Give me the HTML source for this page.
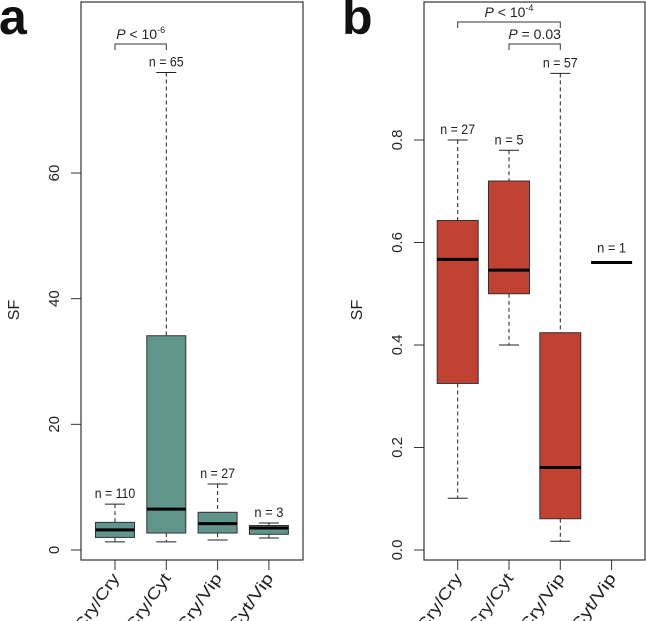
<!DOCTYPE html>
<html><head><meta charset="utf-8"><style>
html,body{margin:0;padding:0;background:#fff;}
svg{display:block;font-family:"Liberation Sans",sans-serif;}
</style></head><body>
<svg id="s" width="646" height="621" viewBox="0 0 646 621"></svg>
<script>
const categories = ["Cry/Cry","Cry/Cyt","Cry/Vip","Cyt/Vip"];
const aLow = [1.3, 1.3, 1.6, 1.9];
const aQ1 = [2.0, 2.7, 2.7, 2.5];
const aMed = [3.2, 6.5, 4.2, 3.5];
const aQ3 = [4.4, 34.1, 6.0, 3.9];
const aHigh = [7.3, 76.0, 10.5, 4.3];
const aN = ["n = 110","n = 65","n = 27","n = 3"];
const aTicks = [0, 20, 40, 60];
const bLow = [0.101, 0.40, 0.017, 0.561];
const bQ1 = [0.325, 0.50, 0.061, 0.561];
const bMed = [0.567, 0.546, 0.161, 0.561];
const bQ3 = [0.643, 0.72, 0.424, 0.561];
const bHigh = [0.80, 0.78, 0.93, 0.561];
const bN = ["n = 27","n = 5","n = 57","n = 1"];
const bTicks = [0.0, 0.2, 0.4, 0.6, 0.8];

const NS = "http://www.w3.org/2000/svg";
const svg = document.getElementById("s");
function mk(tag, attrs, parent, txt){
  const e = document.createElementNS(NS, tag);
  for (const k in attrs) e.setAttribute(k, attrs[k]);
  if (txt !== undefined) e.textContent = txt;
  (parent || svg).appendChild(e);
  return e;
}

function panel(cfg){
  const g = mk("g", {});
  
  
  const y = v => cfg.y0 - v * cfg.scale;
  const x = i => cfg.xs + i * cfg.dx;
  const fr = mk("rect", {x: cfg.left, y: 2, width: cfg.right - cfg.left, height: 558, fill: "none", stroke: "#333", "stroke-width": 1.2}, g);
  
  
  const ya = mk("line", {x1: cfg.left, x2: cfg.left, y1: y(cfg.ticks[0]), y2: y(cfg.ticks[cfg.ticks.length-1]), stroke: "#333"}, g);
  
  
  cfg.ticks.forEach(t => {
    const tl = mk("line", {x1: cfg.left - 10, x2: cfg.left, y1: y(t), y2: y(t), stroke: "#333"}, g);
    
    
    const tx = mk("text", {x: 0, y: 0, transform: `translate(${cfg.left - 22},${y(t)}) rotate(-90)`, "text-anchor": "middle", "font-size": 15, fill: "#222"}, g, cfg.fmt(t));
    
    
  });
  const yt = mk("text", {x: 0, y: 0, transform: `translate(${cfg.left - 62},${310}) rotate(-90)`, "text-anchor": "middle", "font-size": 16, fill: "#222"}, g, "SF");
  
  
  const lt = mk("text", {x: cfg.left - 82, y: 34, "font-size": 50, "font-weight": "bold", fill: "#111"}, g, cfg.letter);
  
  
  categories.forEach((c, i) => {
    const cx = x(i);
    const xt = mk("line", {x1: cx, x2: cx, y1: 560, y2: 570, stroke: "#333"}, g);
    
    
    const xl = mk("text", {x: 0, y: 0, transform: `translate(${cx + 5},${578}) rotate(-55)`, "text-anchor": "end", "font-size": 16, fill: "#222", textLength: 66, lengthAdjust: "spacingAndGlyphs"}, g, c);
    
    
    const hw = cfg.bw / 2, cw = 16;
    const lo = cfg.low[i], q1 = cfg.q1[i], md = cfg.med[i], q3 = cfg.q3[i], hi = cfg.high[i];
    if (q3 > q1) {
      const w1 = mk("line", {x1: cx, x2: cx, y1: y(hi), y2: y(q3), stroke: "#222", "stroke-dasharray": "4,3"}, g);
      
      
      const w2 = mk("line", {x1: cx, x2: cx, y1: y(q1), y2: y(lo), stroke: "#222", "stroke-dasharray": "4,3"}, g);
      
      
      const c1 = mk("line", {x1: cx - cw/2 - 2, x2: cx + cw/2 + 2, y1: y(hi), y2: y(hi), stroke: "#222"}, g);
      
      
      const c2 = mk("line", {x1: cx - cw/2 - 2, x2: cx + cw/2 + 2, y1: y(lo), y2: y(lo), stroke: "#222"}, g);
      
      
      const b = mk("rect", {x: cx - hw, y: y(q3), width: cfg.bw, height: y(q1) - y(q3), fill: cfg.color, stroke: "#333", "stroke-width": 1}, g);
      
      
    }
    const m = mk("line", {x1: cx - hw, x2: cx + hw, y1: y(md), y2: y(md), stroke: "#000", "stroke-width": 3}, g);
    
    
    const nt = mk("text", {x: cx, y: y(hi) - (q3 > q1 ? 6 : 10), "text-anchor": "middle", "font-size": 14, fill: "#222", textLength: cfg.n[i].length * 5.8, lengthAdjust: "spacingAndGlyphs"}, g, cfg.n[i]);
    
    
  });
  cfg.brackets.forEach(br => {
    const x1 = x(br.a), x2 = x(br.b);
    const p = mk("path", {d: `M${x1},${br.y + 6}V${br.y}H${x2}V${br.y + 6}`, fill: "none", stroke: "#333"}, g);
    
    
    const t = mk("text", {x: (x1 + x2) / 2, y: br.y - 5, "text-anchor": "middle", "font-size": 14, fill: "#222"}, g);
    
    
    mk("tspan", {"font-style": "italic"}, t, "P");
    mk("tspan", {}, t, br.op);
    if (br.exp) mk("tspan", {dy: -6, "font-size": 9}, t, br.exp);
  });
}

panel({name: "panel-a", letter: "a", left: 81, right: 303, y0: 550, scale: 377/60, xs: 115, dx: 51.3, bw: 39,
  color: "#5f958b", ticks: aTicks, fmt: t => String(t), low: aLow, q1: aQ1, med: aMed, q3: aQ3, high: aHigh, n: aN,
  brackets: [{a: 0, b: 1, y: 44, op: " < 10", exp: "-6"}]});
panel({name: "panel-b", letter: "b", left: 424, right: 645, y0: 550, scale: 410/0.8, xs: 457.7, dx: 51.3, bw: 41,
  color: "#c14232", ticks: bTicks, fmt: t => t.toFixed(1), low: bLow, q1: bQ1, med: bMed, q3: bQ3, high: bHigh, n: bN,
  brackets: [{a: 0, b: 2, y: 22, op: " < 10", exp: "-4"}, {a: 1, b: 2, y: 44, op: " = 0.03"}]});
</script>
</body></html>
